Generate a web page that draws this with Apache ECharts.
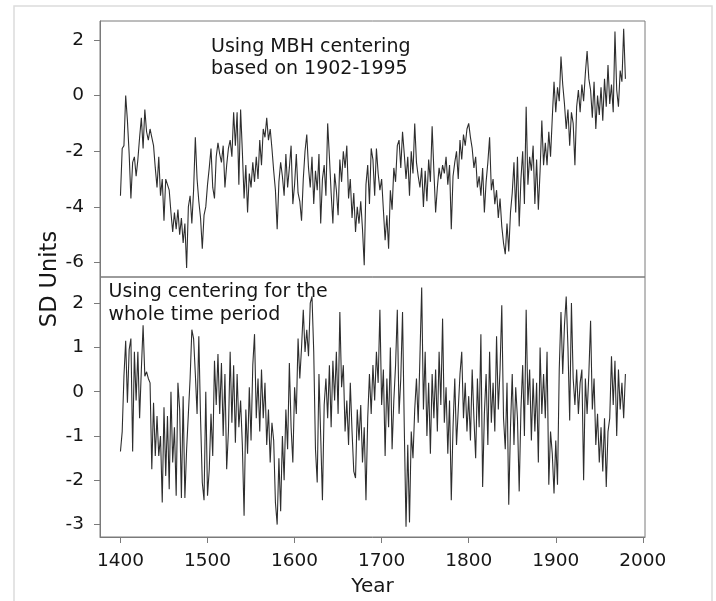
<!DOCTYPE html>
<html><head><meta charset="utf-8">
<script src="https://cdn.jsdelivr.net/npm/echarts@6/dist/echarts.min.js"></script>
<style>html,body{margin:0;padding:0;background:#fff}#c{width:716px;height:601px}</style>
</head><body><div id="c"></div>
<script>
// sampling grid of the reconstruction (every 2 years, 1400-1980)
const startYear = 1400;
const stepYears = 2;

// Top panel: MBH centering (1902-1995)
const mbhValues = [
 -3.6, -1.9, -1.8, 0.0, -0.9, -2.1, -3.7, -2.4, -2.2, -2.9,
 -2.3, -1.5, -0.8, -1.9, -0.5, -1.3, -1.6, -1.2, -1.5, -1.8,
 -2.6, -3.3, -2.2, -3.6, -3.0, -4.5, -3.0, -3.2, -3.4, -4.2,
 -4.9, -4.2, -4.8, -4.1, -5.0, -4.4, -5.3, -4.6, -6.2, -4.0,
 -3.6, -4.6, -3.4, -1.5, -3.0, -3.8, -4.4, -5.5, -4.3, -4.0,
 -3.2, -2.6, -1.9, -3.3, -3.7, -2.2, -1.7, -2.1, -2.4, -1.8,
 -3.3, -2.5, -1.9, -1.6, -2.2, -0.6, -1.8, -0.6, -3.2, -0.5,
 -2.0, -3.7, -2.5, -4.2, -2.8, -3.3, -2.4, -3.1, -2.2, -3.0,
 -1.6, -2.5, -1.2, -1.5, -0.8, -1.6, -1.2, -1.9, -2.7, -3.4,
 -4.8, -3.1, -2.4, -2.9, -3.6, -2.1, -3.3, -2.6, -1.8, -3.9,
 -3.2, -2.1, -3.5, -3.8, -4.5, -3.0, -2.0, -1.4, -2.6, -3.3,
 -2.2, -3.9, -2.7, -3.4, -2.1, -4.6, -3.0, -2.5, -3.6, -1.0,
 -2.2, -3.5, -4.6, -2.8, -3.4, -4.3, -2.3, -3.1, -2.0, -2.6,
 -1.8, -3.7, -3.0, -4.4, -3.5, -4.9, -4.0, -4.6, -3.8, -4.8,
 -6.1, -3.2, -2.5, -3.9, -1.9, -2.3, -3.6, -1.9, -2.8, -3.4,
 -3.0, -4.1, -5.2, -4.3, -5.5, -3.4, -4.1, -2.6, -3.1, -1.8,
 -1.6, -2.6, -1.3, -2.1, -3.0, -2.2, -3.6, -2.0, -2.8, -1.0,
 -2.4, -2.9, -3.3, -2.6, -4.0, -2.7, -3.8, -2.3, -3.1, -1.1,
 -2.7, -4.2, -3.3, -2.6, -3.0, -2.5, -2.8, -2.2, -3.2, -2.5,
 -4.8, -2.9, -2.4, -2.0, -3.0, -1.6, -2.3, -1.4, -1.8, -1.2,
 -1.0, -1.5, -1.9, -2.6, -2.2, -3.3, -2.9, -3.6, -2.6, -4.2,
 -3.1, -2.4, -1.5, -3.4, -3.0, -3.9, -3.4, -4.4, -3.7, -4.7,
 -5.3, -5.7, -4.6, -5.6, -4.2, -3.5, -2.4, -4.2, -2.2, -4.7,
 -3.0, -2.0, -3.9, -0.4, -3.2, -2.2, -2.7, -1.8, -3.9, -2.3,
 -4.1, -2.7, -0.9, -2.5, -1.7, -2.5, -1.3, -2.2, -0.8, 0.5,
 -0.6, 0.3, -0.2, 1.4, 0.4, -0.3, -1.2, -0.5, -1.8, -0.6,
 -1.0, -2.5, -0.4, 0.2, -0.6, 0.4, -0.2, 0.8, 1.6, 0.6,
 0.2, -0.8, 0.5, -1.2, 0.0, -0.7, 0.3, -0.9, 0.6, -0.4,
 1.1, -0.3, 0.4, -0.6, 2.3, 0.2, -0.4, 0.9, 0.5, 2.4, 0.6
];

// Bottom panel: centering for the whole time period
const fullValues = [
 -1.35, -0.9, 0.35, 1.15, -0.25, 0.95, 1.2, -1.35, 0.9, -0.2,
 0.9, -0.6, 0.5, 1.5, 0.35, 0.45, 0.3, 0.2, -1.75, -0.25,
 -1.45, -0.55, -1.45, -1.0, -2.5, -0.35, -1.9, -0.55, -2.2, 0.0,
 -1.6, -0.8, -2.35, 0.2, -0.4, -2.4, -0.1, -2.4, -1.3, -0.5,
 0.3, 1.4, 1.2, 0.4, -0.5, 1.25, -0.6, -2.05, -2.45, 0.0,
 -2.35, -1.75, -0.5, -1.45, 0.7, -0.3, 0.85, -0.5, 0.65, -1.0,
 0.4, -1.75, -0.9, 0.9, -0.7, 0.6, -1.15, 0.4, -0.8, -0.2,
 -1.2, -2.8, -0.4, -1.4, 0.1, -1.1, 0.6, 1.3, -0.6, 0.3,
 -0.9, 0.5, -0.6, 0.2, -1.2, -0.4, -1.6, -0.7, -1.1, -2.5,
 -3.0, -1.5, -2.7, -1.0, -2.0, -0.4, -1.3, 0.65, -0.8, -1.6,
 0.1, -0.5, 1.2, 0.3, 1.0, 1.85, 0.9, 1.4, 0.8, 2.0,
 2.15, 0.9, -1.3, -2.05, 0.4, -1.0, -2.45, -0.3, 0.3, -0.6,
 0.6, -0.8, 0.7, -0.2, 0.9, -0.5, 1.8, 0.1, 0.6, -0.9,
 -0.2, -1.2, 0.2, -0.9, -1.8, -1.95, -0.4, -1.1, -0.3, -1.6,
 -0.8, -2.45, -0.6, 0.4, -0.5, 0.6, -0.2, 0.9, 0.2, 1.85,
 -0.3, 0.5, -1.45, 0.3, -0.8, 1.0, -1.3, -0.2, 0.6, 1.85,
 -0.5, 0.3, 1.8, -0.8, -3.05, -1.2, -2.95, -0.9, -1.5, -0.4,
 0.3, -0.7, 0.8, 2.35, -0.4, 0.9, -1.0, 0.2, -1.4, 0.4,
 -0.6, 0.5, -0.9, 0.9, -0.3, 1.65, -0.7, 0.1, -1.4, -0.2,
 -2.45, -0.8, 0.3, -1.2, -0.4, 0.4, 0.9, -0.6, 0.2, -0.9,
 -0.1, -1.1, 0.5, -0.6, -1.5, 0.3, -0.8, 1.3, -2.15, -0.5,
 0.4, -1.2, 0.9, -0.7, 0.2, -0.9, 1.25, -0.4, 0.5, 1.95,
 -0.6, -1.3, 0.2, -2.55, -0.8, 0.4, -1.2, 0.1, -0.6, -2.25,
 -0.4, 0.6, -1.0, 1.85, -0.3, 0.5, -1.1, 0.3, -0.9, 0.2,
 -1.6, 1.0, -0.5, 0.4, -0.6, 0.9, -2.1, -0.9, -1.4, -2.3,
 -1.1, -2.1, 0.5, 1.8, 0.4, 1.5, 2.15, 1.0, -0.65, 2.0,
 0.3, -0.3, 0.5, -0.5, 0.2, 0.5, -2.0, 0.3, -0.5, 0.4,
 1.6, -0.4, 0.3, -1.2, -0.5, -1.6, -0.8, -1.8, -0.6, -2.15,
 -0.9, -0.6, 0.8, -0.3, 0.7, -1.0, 0.5, -0.4, 0.2, -0.6, 0.4
];

const xTicks = [1400, 1500, 1600, 1700, 1800, 1900, 2000];
const topYTicks = [-6, -4, -2, 0, 2];
const bottomYTicks = [-3, -2, -1, 0, 1, 2];
const topNote = ['Using MBH centering', 'based on 1902-1995'];
const bottomNote = ['Using centering for the', 'whole time period'];
const yTitle = 'SD Units';
const xTitle = 'Year';

const FONT = 'DejaVu Sans';
const AXIS_C = '#7a7a7a';
const TEXT_C = '#161616';

function toPairs(vals) {
  return vals.map((v, i) => [startYear + i * stepYears, v]);
}

const xMin = 1376.5, xMax = 2002.5;

function yAxisCfg(idx, min, max, ticks) {
  return {
    gridIndex: idx, type: 'value', min: min, max: max,
    axisLine: { show: true, onZero: false, lineStyle: { color: AXIS_C, width: 1 } },
    axisTick: { show: true, inside: false, length: 6, customValues: ticks, lineStyle: { color: AXIS_C } },
    axisLabel: { show: true, customValues: ticks, margin: 16, fontSize: 18.5, fontFamily: FONT, color: TEXT_C,
                 formatter: v => String(v) },
    splitLine: { show: false }
  };
}

const chart = echarts.init(document.getElementById('c'), null, { renderer: 'canvas' });
chart.setOption({
  animation: false,
  backgroundColor: '#ffffff',
  grid: [
    { left: 100, top: 21, width: 545, height: 256, show: true, borderColor: AXIS_C, borderWidth: 1, backgroundColor: 'transparent' },
    { left: 100, top: 277, width: 545, height: 260, show: true, borderColor: AXIS_C, borderWidth: 1, backgroundColor: 'transparent' }
  ],
  xAxis: [
    { gridIndex: 0, type: 'value', min: xMin, max: xMax, show: false },
    { gridIndex: 1, type: 'value', min: xMin, max: xMax,
      axisLine: { show: true, onZero: false, lineStyle: { color: AXIS_C, width: 1 } },
      axisTick: { show: true, length: 6, customValues: xTicks, lineStyle: { color: AXIS_C } },
      axisLabel: { show: true, customValues: xTicks, margin: 15, fontSize: 18.5, fontFamily: FONT, color: TEXT_C,
                   formatter: v => String(v) },
      splitLine: { show: false },
      name: xTitle, nameLocation: 'middle', nameGap: 40,
      nameTextStyle: { fontSize: 20, fontFamily: FONT, color: TEXT_C }
    }
  ],
  yAxis: [
    yAxisCfg(0, -6.52, 2.68, topYTicks),
    yAxisCfg(1, -3.28, 2.59, bottomYTicks)
  ],
  series: [
    { type: 'line', xAxisIndex: 0, yAxisIndex: 0, data: toPairs(mbhValues), symbol: 'none', showSymbol: false,
      lineStyle: { width: 1.1, color: '#2e2e2e' }, emphasis: { disabled: true } },
    { type: 'line', xAxisIndex: 1, yAxisIndex: 1, data: toPairs(fullValues), symbol: 'none', showSymbol: false,
      lineStyle: { width: 1.1, color: '#2e2e2e' }, emphasis: { disabled: true } }
  ],
  graphic: [
    { type: 'rect', shape: { x: 14, y: 6, width: 698, height: 700 }, style: { fill: 'none', stroke: '#dcdcdc', lineWidth: 1.5 }, silent: true },
    { type: 'text', x: 211, y: 47, style: { text: topNote[0], fontSize: 19, fontFamily: FONT, fill: TEXT_C, align: 'left', verticalAlign: 'middle' } },
    { type: 'text', x: 211, y: 69.5, style: { text: topNote[1], fontSize: 19, fontFamily: FONT, fill: TEXT_C, align: 'left', verticalAlign: 'middle' } },
    { type: 'text', x: 108.5, y: 292, style: { text: bottomNote[0], fontSize: 19, fontFamily: FONT, fill: TEXT_C, align: 'left', verticalAlign: 'middle' } },
    { type: 'text', x: 108.5, y: 315, style: { text: bottomNote[1], fontSize: 19, fontFamily: FONT, fill: TEXT_C, align: 'left', verticalAlign: 'middle' } },
    { type: 'text', x: 50, y: 279, rotation: Math.PI / 2, style: { text: yTitle, fontSize: 22.5, fontFamily: FONT, fill: TEXT_C, align: 'center', verticalAlign: 'middle' } }
  ]
});
</script>
</body></html>
